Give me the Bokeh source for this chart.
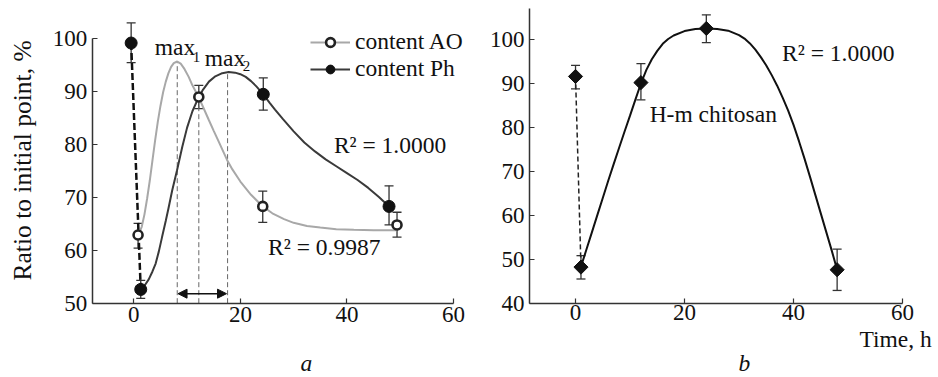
import numpy as np
from bokeh.plotting import figure
from bokeh.layouts import row
from bokeh.models import (ColumnDataSource, Whisker, TeeHead, Label, Arrow, NormalHead,
                          Legend, LegendItem, Range1d, FixedTicker)
from bokeh.embed import file_html
from bokeh.resources import INLINE

FONT = "Liberation Serif"

# ---------------- panel a data ----------------
ph_t = [-0.5, 1.3, 24.3, 47.9]
ph_y = [99.2, 52.6, 89.5, 68.3]
ph_lo = [95.5, 50.9, 86.5, 64.8]
ph_hi = [103.0, 54.3, 92.6, 72.2]

ao_t = [0.8, 12.2, 24.2, 49.4]
ao_y = [62.9, 89.0, 68.3, 64.8]
ao_lo = [60.4, 86.8, 65.3, 62.5]
ao_hi = [65.1, 91.2, 71.2, 67.2]

ao_fit_t = [1.0, 1.5, 2.0, 2.5, 3.0, 3.5, 4.0, 4.5, 5.0, 5.5, 6.0, 6.5, 7.0, 7.5, 8.15,
            8.8, 9.5, 10.3, 11.0, 12.2, 13.0, 14.1, 15.0, 16.0, 17.5, 18.5, 20.0, 22.0,
            24.2, 26.0, 28.2, 30.0, 32.5, 35.0, 38.0, 41.3, 45.0, 49.4]
ao_fit_y = [63.2, 64.5, 66.8, 69.8, 73.2, 77.0, 80.8, 84.3, 87.3, 89.9, 91.9, 93.5, 94.7, 95.4, 95.7,
            95.3, 94.3, 92.8, 91.2, 88.9, 87.1, 84.6, 82.6, 80.4, 77.1, 75.3, 73.0, 70.5,
            68.3, 67.0, 65.9, 65.2, 64.6, 64.3, 64.0, 63.9, 63.8, 63.8]

ph_fit_t = [1.3, 2.0, 2.8, 3.5, 4.1, 4.7, 5.3, 6.0, 6.5, 7.2, 8.1, 9.1, 10.0, 11.0, 12.2,
            13.0, 14.1, 15.3, 16.6, 17.8, 19.0, 20.0, 21.0, 22.0, 23.0, 24.3, 25.5, 26.5,
            28.0, 30.0, 32.0, 34.0, 36.0, 38.0, 40.0, 42.0, 44.0, 46.0, 47.9]
ph_fit_y = [52.6, 53.3, 54.5, 56.0, 57.5, 59.8, 62.5, 65.6, 67.9, 71.3, 75.1, 79.6, 83.2, 86.3, 89.0,
            90.4, 91.9, 92.9, 93.5, 93.7, 93.6, 93.3, 92.8, 92.0, 91.0, 89.5, 87.9, 86.6,
            84.8, 82.5, 80.4, 78.7, 77.2, 75.9, 74.6, 73.3, 71.8, 70.1, 68.3]

max_t = [8.15, 12.2, 17.6]
max_y = [95.7, 89.0, 93.7]
shift_span = [8.3, 17.4]
shift_level = 51.8

# ---------------- panel b data ----------------
chi_t = [0, 1, 12, 24, 48]
chi_y = [91.5, 48.2, 90.1, 102.4, 47.6]
chi_lo = [88.7, 45.5, 86.2, 99.2, 42.9]
chi_hi = [94.0, 50.8, 94.4, 105.5, 52.3]

chi_fit_t = [1, 2, 3, 4, 5, 6, 7, 8, 9, 10, 11, 12, 13, 14, 15, 16, 17, 18, 20, 22, 24, 26,
             28, 30, 31, 32, 33, 34, 35, 36, 37, 38, 39, 40, 41, 42, 43, 44, 45, 46, 47, 48]
chi_fit_y = [48.3, 52.2, 56.1, 60.0, 63.9, 67.8, 71.6, 75.3, 79.0, 82.6, 86.3, 89.9, 93.0, 95.4,
             97.3, 98.9, 100.0, 100.8, 101.8, 102.3, 102.4, 102.3, 101.9, 100.9, 100.1, 99.0,
             97.6, 95.9, 94.0, 91.8, 89.4, 86.7, 83.8, 80.5, 76.8, 72.9, 68.8, 64.6, 60.4,
             56.2, 52.0, 47.6]

x_ticks = [0, 20, 40, 60]
ya_ticks = [50, 60, 70, 80, 90, 100]
yb_ticks = [40, 50, 60, 70, 80, 90, 100]

AX = "#333333"
GRAY = "#a8a8a8"
TXT = "23.5px"
LIFT = 8.5  # px: raise text labels so the baseline sits where intended


def style(p, yticks, x0, y0, xbounds, ybounds):
    p.xgrid.visible = False
    p.ygrid.visible = False
    p.outline_line_color = None
    p.background_fill_color = "white"
    p.border_fill_color = "white"
    p.xaxis.ticker = FixedTicker(ticks=x_ticks)
    p.yaxis.ticker = FixedTicker(ticks=yticks)
    xa, ya = p.xaxis[0], p.yaxis[0]
    xa.fixed_location = y0
    ya.fixed_location = x0
    xa.bounds = xbounds
    ya.bounds = ybounds
    for ax in (xa, ya):
        ax.axis_line_color = AX
        ax.axis_line_width = 1.5
        ax.major_tick_line_color = AX
        ax.major_tick_line_width = 1.2
        ax.major_tick_in = 5
        ax.major_tick_out = 0
        ax.minor_tick_line_color = None
        ax.major_label_text_font = FONT
        ax.major_label_text_font_size = "23px"
        ax.major_label_text_color = "#111111"
    ya.major_label_standoff = 5


def whisk(p, src, color):
    w = Whisker(base="t", lower="lo", upper="hi", source=src, dimension="height",
                line_color=color, line_width=1.3,
                upper_head=TeeHead(size=9, line_color=color, line_width=1.3),
                lower_head=TeeHead(size=9, line_color=color, line_width=1.3))
    w.level = "underlay"
    p.add_layout(w)


def lab(p, px_per_unit, x, y, text, size=TXT, style_="normal", align="left", angle=0.0,
        baseline="alphabetic", lift=LIFT):
    p.add_layout(Label(x=x, y=y + lift / px_per_unit, text=text, text_font=FONT,
                       text_font_size=size, text_font_style=style_, text_color="#111111",
                       angle=angle, text_align=align, text_baseline=baseline))


A_PX = 5.288
B_PX = 4.403

# ---------------- figure a ----------------
p1 = figure(width=470, height=377, x_range=Range1d(-25.02, 63.19),
            y_range=Range1d(35.95, 107.24),
            output_backend="svg", toolbar_location=None,
            min_border_left=0, min_border_right=0, min_border_top=0, min_border_bottom=0)
style(p1, ya_ticks, -7.8, 50, (-7.8, 60), (50, 100))
p1.xaxis.major_label_standoff = 4

p1.segment(x0=max_t, y0=[50] * 3, x1=max_t, y1=max_y, line_color="#666666",
           line_width=1, line_dash="5 3")
p1.add_layout(Arrow(x_start=shift_span[0], y_start=shift_level, x_end=shift_span[1],
                    y_end=shift_level, line_color="#111111", line_width=1.5,
                    start=NormalHead(size=9, fill_color="#111111", line_color="#111111"),
                    end=NormalHead(size=9, fill_color="#111111", line_color="#111111")))

p1.line(ph_t[:2], ph_y[:2], line_color="#111111", line_width=2.5, line_dash="7 3")

ph_src = ColumnDataSource(dict(t=ph_t, y=ph_y, lo=ph_lo, hi=ph_hi))
ao_src = ColumnDataSource(dict(t=ao_t, y=ao_y, lo=ao_lo, hi=ao_hi))
whisk(p1, ph_src, "#333333")
whisk(p1, ao_src, "#333333")

ao_line = p1.line(ao_fit_t, ao_fit_y, line_color=GRAY, line_width=2)
ph_line = p1.line(ph_fit_t, ph_fit_y, line_color="#3a3a3a", line_width=2)

ph_pts = p1.scatter("t", "y", source=ph_src, marker="circle", size=12,
                    fill_color="#111111", line_color="#111111")
ao_pts = p1.scatter("t", "y", source=ao_src, marker="circle", size=9,
                    fill_color="white", line_color="#222222", line_width=2.6)

legend = Legend(items=[LegendItem(label="content AO", renderers=[ao_line, ao_pts]),
                       LegendItem(label="content Ph", renderers=[ph_line, ph_pts])],
                location=(310, 295), orientation="vertical",
                label_text_font=FONT, label_text_font_size=TXT, label_text_color="#111111",
                glyph_width=40, glyph_height=22, label_height=22, label_standoff=5,
                spacing=-3, padding=0, margin=0,
                background_fill_alpha=0, border_line_alpha=0)
p1.add_layout(legend)

lab(p1, A_PX, -20.89, 77.0, "Ratio to initial point, %", size="25.5px", align="center",
    angle=np.pi / 2, baseline="middle", lift=0)
lab(p1, A_PX, 3.94, 96.84, "max")
lab(p1, A_PX, 11.05, 95.0, "1", size="15px")
lab(p1, A_PX, 13.3, 94.76, "max")
lab(p1, A_PX, 20.45, 93.2, "2", size="15px")
lab(p1, A_PX, 37.55, 78.4, "R\u00b2 = 1.0000")
lab(p1, A_PX, 25.2, 59.0, "R\u00b2 = 0.9987")
lab(p1, A_PX, 31.3, 37.1, "a", style_="italic")

# ---------------- figure b ----------------
p2 = figure(width=468, height=377, x_range=Range1d(-19.27, 66.6),
            y_range=Range1d(23.13, 108.75),
            output_backend="svg", toolbar_location=None,
            min_border_left=0, min_border_right=0, min_border_top=0, min_border_bottom=0)
style(p2, yb_ticks, -8.44, 40, (-8.44, 60), (40, 107))
p2.xaxis.major_label_standoff = 2

p2.line(chi_t[:2], chi_y[:2], line_color="#222222", line_width=1.5, line_dash="5 3")
chi_src = ColumnDataSource(dict(t=chi_t, y=chi_y, lo=chi_lo, hi=chi_hi))
whisk(p2, chi_src, "#333333")
p2.line(chi_fit_t, chi_fit_y, line_color="#111111", line_width=2)
p2.scatter("t", "y", source=chi_src, marker="square", angle=np.pi / 4, size=10,
           fill_color="#111111", line_color="#111111")

lab(p2, B_PX, 37.9, 95.0, "R\u00b2 = 1.0000")
lab(p2, B_PX, 13.6, 81.1, "H-m chitosan")
lab(p2, B_PX, 66.42, 29.94, "Time,  h", align="right")
lab(p2, B_PX, 29.9, 24.5, "b", style_="italic")

layout = row(p1, p2)
open("out.html", "w").write(file_html(layout, INLINE))
